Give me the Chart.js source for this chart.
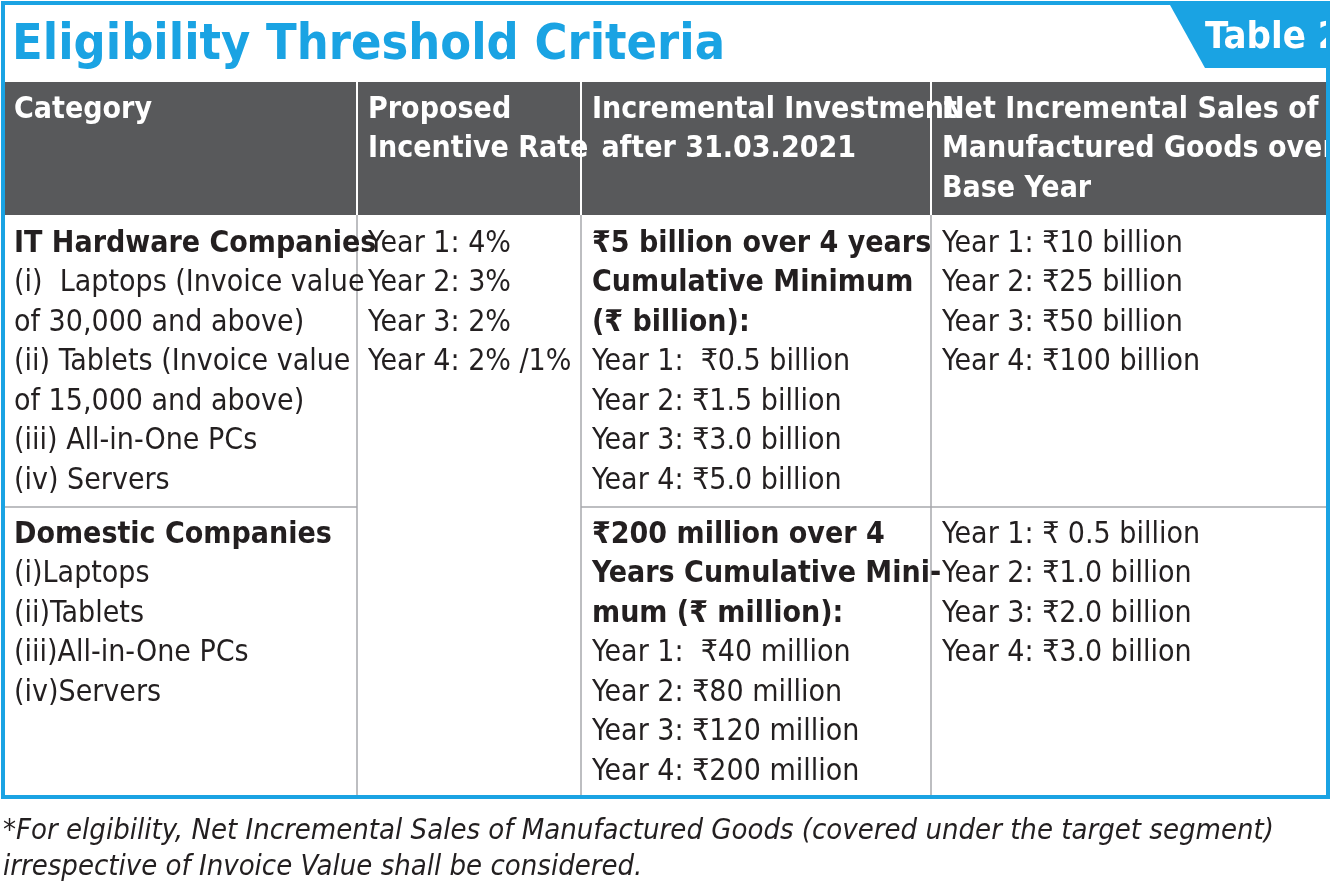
<!DOCTYPE html>
<html><head><meta charset="utf-8">
<script src="https://cdn.jsdelivr.net/npm/chart.js@4.4.0/dist/chart.umd.min.js"></script>
<style>html,body{margin:0;padding:0;background:#fff}#wrap{width:1331px;height:891px}</style>
</head><body><div id="wrap"><canvas id="c"></canvas></div>
<script>
const title = "Eligibility Threshold Criteria";
const tag = "Table 2";
const headers = [
  ["Category"],
  ["Proposed", "Incentive Rate"],
  ["Incremental Investment", " after 31.03.2021"],
  ["Net Incremental Sales of", "Manufactured Goods over", "Base Year"]
];
const row1 = [
  [{t:"IT Hardware Companies",b:1},{t:"(i)  Laptops (Invoice value"},{t:"of 30,000 and above)"},{t:"(ii) Tablets (Invoice value"},{t:"of 15,000 and above)"},{t:"(iii) All-in-One PCs"},{t:"(iv) Servers"}],
  [{t:"Year 1: 4%"},{t:"Year 2: 3%"},{t:"Year 3: 2%"},{t:"Year 4: 2% /1%"}],
  [{t:"₹5 billion over 4 years",b:1},{t:"Cumulative Minimum",b:1},{t:"(₹ billion):",b:1},{t:"Year 1:  ₹0.5 billion"},{t:"Year 2: ₹1.5 billion"},{t:"Year 3: ₹3.0 billion"},{t:"Year 4: ₹5.0 billion"}],
  [{t:"Year 1: ₹10 billion"},{t:"Year 2: ₹25 billion"},{t:"Year 3: ₹50 billion"},{t:"Year 4: ₹100 billion"}]
];
const row2 = [
  [{t:"Domestic Companies",b:1},{t:"(i)Laptops"},{t:"(ii)Tablets"},{t:"(iii)All-in-One PCs"},{t:"(iv)Servers"}],
  [],
  [{t:"₹200 million over 4",b:1},{t:"Years Cumulative Mini-",b:1},{t:"mum (₹ million):",b:1},{t:"Year 1:  ₹40 million"},{t:"Year 2: ₹80 million"},{t:"Year 3: ₹120 million"},{t:"Year 4: ₹200 million"}],
  [{t:"Year 1: ₹ 0.5 billion"},{t:"Year 2: ₹1.0 billion"},{t:"Year 3: ₹2.0 billion"},{t:"Year 4: ₹3.0 billion"}]
];
const footnote = ["*For elgibility, Net Incremental Sales of Manufactured Goods (covered under the target segment)",
  "irrespective of Invoice Value shall be considered."];

const F = '"Liberation Sans Narrow","DejaVu Sans Condensed","Liberation Sans",sans-serif';
const BLUE = '#1aa3e3';
const colX = [3, 357, 581, 931, 1328];

const tablePlugin = {
  id: 'table',
  afterDraw(chart) {
    const ctx = chart.ctx, xs = chart.scales.x, ys = chart.scales.y;
    const X = v => xs.getPixelForValue(v), Y = v => ys.getPixelForValue(v);
    ctx.save();
    // header band
    ctx.fillStyle = '#58595b';
    ctx.fillRect(X(3), Y(82), X(1328) - X(3), Y(215) - Y(82));
    // tag
    ctx.fillStyle = BLUE;
    ctx.beginPath();
    ctx.moveTo(X(1170), Y(5)); ctx.lineTo(X(1328), Y(5)); ctx.lineTo(X(1328), Y(68)); ctx.lineTo(X(1205), Y(68)); ctx.closePath(); ctx.fill();
    ctx.fillStyle = '#fff'; ctx.font = 'bold 38px ' + F; ctx.textBaseline = 'middle'; ctx.textAlign = 'left';
    ctx.fillText(tag, X(1205), Y(38));
    // title
    ctx.fillStyle = BLUE; ctx.font = 'bold 50px ' + F;
    ctx.fillText(title, X(12), Y(46));
    // header separators
    ctx.strokeStyle = '#ffffff'; ctx.lineWidth = 2;
    [357, 581, 931].forEach(c => { ctx.beginPath(); ctx.moveTo(X(c), Y(82)); ctx.lineTo(X(c), Y(215)); ctx.stroke(); });
    // body grid
    ctx.strokeStyle = '#a7a9ac'; ctx.lineWidth = 1.5;
    [357, 581, 931].forEach(c => { ctx.beginPath(); ctx.moveTo(X(c), Y(215)); ctx.lineTo(X(c), Y(797)); ctx.stroke(); });
    ctx.beginPath(); ctx.moveTo(X(3), Y(507)); ctx.lineTo(X(357), Y(507)); ctx.stroke();
    ctx.beginPath(); ctx.moveTo(X(581), Y(507)); ctx.lineTo(X(1328), Y(507)); ctx.stroke();
    // header text
    ctx.fillStyle = '#fff'; ctx.font = 'bold 30px ' + F;
    headers.forEach((h, i) => h.forEach((l, j) => ctx.fillText(l, X(colX[i] + 11), Y(110 + j * 39.5))));
    // body text
    const drawRow = (row, y0) => row.forEach((cell, i) => cell.forEach((l, j) => {
      ctx.fillStyle = '#231f20';
      ctx.font = (l.b ? 'bold ' : '') + '30px ' + F;
      ctx.fillText(l.t, X(colX[i] + 11), Y(y0 + j * 39.5));
    }));
    drawRow(row1, 244); drawRow(row2, 535);
    // outer border
    ctx.strokeStyle = BLUE; ctx.lineWidth = 4;
    ctx.strokeRect(X(3), Y(3), X(1328) - X(3), Y(797) - Y(3));
    // footnote
    ctx.fillStyle = '#231f20'; ctx.font = 'italic 29px ' + F;
    footnote.forEach((l, j) => ctx.fillText(l, X(3), Y(831 + j * 36)));
    ctx.restore();
  }
};

new Chart(document.getElementById('c'), {
  type: 'scatter',
  data: { datasets: [{ data: [] }] },
  options: {
    responsive: true, maintainAspectRatio: false, animation: false,
    layout: { padding: 0 },
    plugins: { legend: { display: false }, tooltip: { enabled: false } },
    scales: {
      x: { type: 'linear', min: 0, max: 1331, display: false },
      y: { type: 'linear', min: 0, max: 891, reverse: true, display: false }
    }
  },
  plugins: [tablePlugin]
});
</script></body></html>
